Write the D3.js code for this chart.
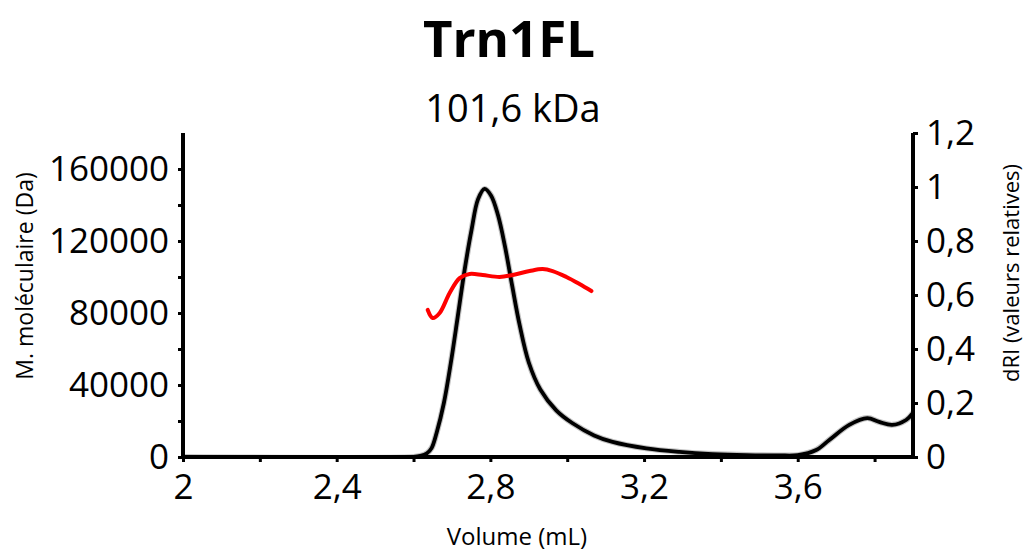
<!DOCTYPE html>
<html>
<head>
<meta charset="utf-8">
<script src="https://cdnjs.cloudflare.com/ajax/libs/d3/7.8.5/d3.min.js"></script>
<style>
  body { margin: 0; background: #fff; }
  svg { display: block; font-family: "Open Sans", sans-serif; }
</style>
</head>
<body>
<svg width="1027" height="551"></svg>
<script>
// dRI trace (right axis)
var volRI = [2.0, 2.6, 2.618, 2.635, 2.647, 2.66, 2.679, 2.697, 2.715, 2.733, 2.751, 2.768, 2.785, 2.802, 2.82, 2.838, 2.856, 2.876, 2.9, 2.93, 2.972, 3.014, 3.07, 3.118, 3.206, 3.292, 3.378, 3.466, 3.55, 3.6, 3.648, 3.682, 3.734, 3.781, 3.812, 3.846, 3.882, 3.9];
var dRI = [0, 0, 0.004, 0.014, 0.033, 0.089, 0.2, 0.348, 0.519, 0.693, 0.841, 0.955, 0.993, 0.968, 0.895, 0.78, 0.64, 0.49, 0.35, 0.25, 0.172, 0.125, 0.08, 0.056, 0.032, 0.019, 0.011, 0.007, 0.006, 0.007, 0.026, 0.063, 0.119, 0.144, 0.13, 0.119, 0.137, 0.163];

// molecular mass (left axis)
var volMW = [2.637, 2.65, 2.668, 2.694, 2.72, 2.746, 2.78, 2.824, 2.858, 2.902, 2.936, 2.962, 2.998, 3.032, 3.063];
var mw = [81700, 77200, 80000, 91100, 99400, 101700, 101100, 100000, 101100, 103300, 104400, 103300, 100000, 96100, 92200];

var xTicks = [2, 2.2, 2.4, 2.6, 2.8, 3, 3.2, 3.4, 3.6, 3.8];
var xLabels = [2, 2.4, 2.8, 3.2, 3.6];
var leftTicks = [0, 20000, 40000, 60000, 80000, 100000, 120000, 140000, 160000];
var leftLabels = [0, 40000, 80000, 120000, 160000];
var rightTicks = [0, 0.2, 0.4, 0.6, 0.8, 1, 1.2];

var svg = d3.select("svg"),
  margin = { top: 133, right: 114, bottom: 94, left: 183 },
  width = +svg.attr("width") - margin.left - margin.right,
  height = +svg.attr("height") - margin.top - margin.bottom;

var x = d3.scaleLinear().domain([2, 3.9]).range([0, width]);
var yL = d3.scaleLinear().domain([0, 180000]).range([height, 0]);
var yR = d3.scaleLinear().domain([0, 1.2]).range([height, 0]);

function comma(d) {
  return (+d.toFixed(2)).toString().replace(".", ",");
}

// titles
svg.append("text")
  .attr("x", 509).attr("y", 57)
  .style("text-anchor", "middle")
  .style("font-size", "51px")
  .style("font-weight", "700")
  .text("Trn1FL");

svg.append("text")
  .attr("x", 513).attr("y", 122)
  .style("text-anchor", "middle")
  .style("font-size", "38px")
  .text("101,6 kDa");

// axis titles
svg.append("text")
  .attr("x", 517).attr("y", 545)
  .style("text-anchor", "middle")
  .style("font-size", "24px")
  .text("Volume (mL)");

svg.append("text")
  .attr("transform", "translate(33,276) rotate(-90)")
  .style("text-anchor", "middle")
  .style("font-size", "23px")
  .text("M. moléculaire (Da)");

svg.append("text")
  .attr("transform", "translate(1019,273) rotate(-90)")
  .style("text-anchor", "middle")
  .style("font-size", "22px")
  .text("dRI (valeurs relatives)");

var focus = svg.append("g")
  .attr("transform", "translate(" + margin.left + "," + margin.top + ")");

svg.append("defs").append("clipPath").attr("id", "clip")
  .append("rect").attr("x", 0).attr("y", -10).attr("width", width).attr("height", height + 10);

var lineRI = d3.line()
  .x(function(d, i) { return x(volRI[i]); })
  .y(function(d) { return yR(Math.max(0, d)); })
  .curve(d3.curveCatmullRom.alpha(0.5));

var lineMW = d3.line()
  .x(function(d, i) { return x(volMW[i]); })
  .y(function(d) { return yL(d); })
  .curve(d3.curveCatmullRom.alpha(0.5));

var plot = focus.append("g").attr("clip-path", "url(#clip)");

plot.append("path")
  .datum(dRI)
  .attr("fill", "none")
  .attr("stroke", "#999")
  .attr("stroke-opacity", 0.6)
  .attr("stroke-width", 6)
  .attr("d", lineRI);

plot.append("path")
  .datum(dRI)
  .attr("fill", "none")
  .attr("stroke", "#000")
  .attr("stroke-width", 3.8)
  .attr("stroke-linejoin", "round")
  .attr("d", lineRI);

plot.append("path")
  .datum(mw)
  .attr("fill", "none")
  .attr("stroke", "#ff0000")
  .attr("stroke-width", 4)
  .attr("stroke-linecap", "round")
  .attr("d", lineMW);

// axes
var xAxis = d3.axisBottom(x).tickValues(xTicks).tickSize(5).tickPadding(12)
  .tickFormat(function(d) { return xLabels.some(function(v) { return Math.abs(v - d) < 1e-6; }) ? comma(d) : ""; });
var yAxisL = d3.axisLeft(yL).tickValues(leftTicks).tickSize(5).tickPadding(9)
  .tickFormat(function(d) { return leftLabels.indexOf(d) >= 0 ? d : ""; });
var yAxisR = d3.axisRight(yR).tickValues(rightTicks).tickSize(5).tickPadding(8)
  .tickFormat(comma);

function styleAxis(g) {
  g.select(".domain").remove();
  g.selectAll(".tick line").attr("stroke", "#000").attr("stroke-width", 3);
  g.selectAll(".tick text").attr("fill", "#000")
    .style("font-size", "35px").style("font-family", "'Open Sans', sans-serif");
}

focus.append("g")
  .attr("transform", "translate(0," + height + ")")
  .call(xAxis).call(styleAxis);

focus.append("g").call(yAxisL).call(styleAxis);

focus.append("g")
  .attr("transform", "translate(" + width + ",0)")
  .call(yAxisR).call(styleAxis);

// axis lines
focus.append("line").attr("x1", 0).attr("x2", 0).attr("y1", 0).attr("y2", height + 2)
  .attr("stroke", "#000").attr("stroke-width", 4);
focus.append("line").attr("x1", width).attr("x2", width).attr("y1", 0).attr("y2", height + 2)
  .attr("stroke", "#000").attr("stroke-width", 4);
focus.append("line").attr("x1", -2).attr("x2", width + 2).attr("y1", height).attr("y2", height)
  .attr("stroke", "#000").attr("stroke-width", 4);
</script>
</body>
</html>
